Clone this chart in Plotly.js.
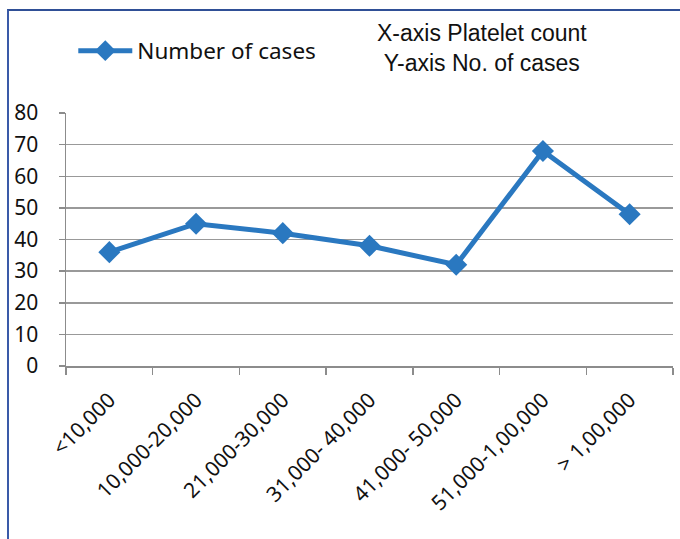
<!DOCTYPE html>
<html>
<head>
<meta charset="utf-8">
<script src="https://cdn.plot.ly/plotly-3.0.1.min.js"></script>
<style>
html,body{margin:0;padding:0;background:#fff;}
#chart{width:680px;height:539px;position:absolute;left:0;top:0;}
#frame{position:absolute;left:7px;top:9px;width:700px;height:600px;border-left:2px solid #3a5aa8;border-top:2px solid #2f4f96;pointer-events:none;}
</style>
</head>
<body>
<div id="chart"></div>
<div id="frame"></div>
<script>
const categories = ["<10,000","10,000-20,000","21,000-30,000","31,000- 40,000","41,000- 50,000","51,000-1,00,000","> 1,00,000"];
const cases = [36, 45, 42, 38, 32, 68, 48];
const yTicks = [0,10,20,30,40,50,60,70,80];
const seriesName = "Number of cases";
const titleText = "X-axis Platelet count<br>Y-axis No. of cases";

const blue = "#2a78c0";
const trace = {
  x: categories, y: cases, type: "scatter", mode: "lines+markers",
  name: seriesName,
  line: {color: blue, width: 5},
  marker: {symbol: "diamond", size: 17, color: blue}
};
const layout = {
  width: 680, height: 539,
  margin: {l: 66, r: 7, t: 113, b: 173},
  paper_bgcolor: "#fff", plot_bgcolor: "#fff",
  showlegend: true,
  legend: {x: 0.012, y: 1.245, xanchor: "left", yanchor: "middle", itemwidth: 54,
           font: {family: "Noto Sans", size: 22.5, color: "#111"}, bgcolor: "rgba(0,0,0,0)"},
  xaxis: {type: "category", range: [-0.5, 6.5], tickangle: -45, tickson: "boundaries",
          ticks: "outside", ticklen: 7, tickcolor: "#8c8c8c", tickwidth: 1.5,
          showline: true, linecolor: "#8c8c8c", linewidth: 1.5, showgrid: false, zeroline: false,
          ticklabelstandoff: 12,
          tickfont: {family: "Noto Sans", size: 21, color: "#111"}, fixedrange: true},
  yaxis: {range: [0, 80], tickvals: yTicks, ticks: "outside", ticklen: 6, tickcolor: "#8c8c8c",
          tickwidth: 1.5, showline: true, linecolor: "#8c8c8c", linewidth: 1.5,
          showgrid: true, gridcolor: "#999", gridwidth: 1.5, zeroline: false,
          ticklabelstandoff: 16,
          tickfont: {family: "Noto Sans", size: 21, color: "#111"}, fixedrange: true},
  annotations: [{text: titleText, xref: "paper", yref: "paper", x: (482-66)/607, y: (366-48)/253,
                 xanchor: "center", yanchor: "middle", showarrow: false, align: "center",
                 font: {family: "Liberation Sans Narrow, Liberation Sans, sans-serif", size: 23, color: "#111"}}]
};
Plotly.newPlot("chart", [trace], layout, {displayModeBar: false, staticPlot: true});
</script>
</body>
</html>
